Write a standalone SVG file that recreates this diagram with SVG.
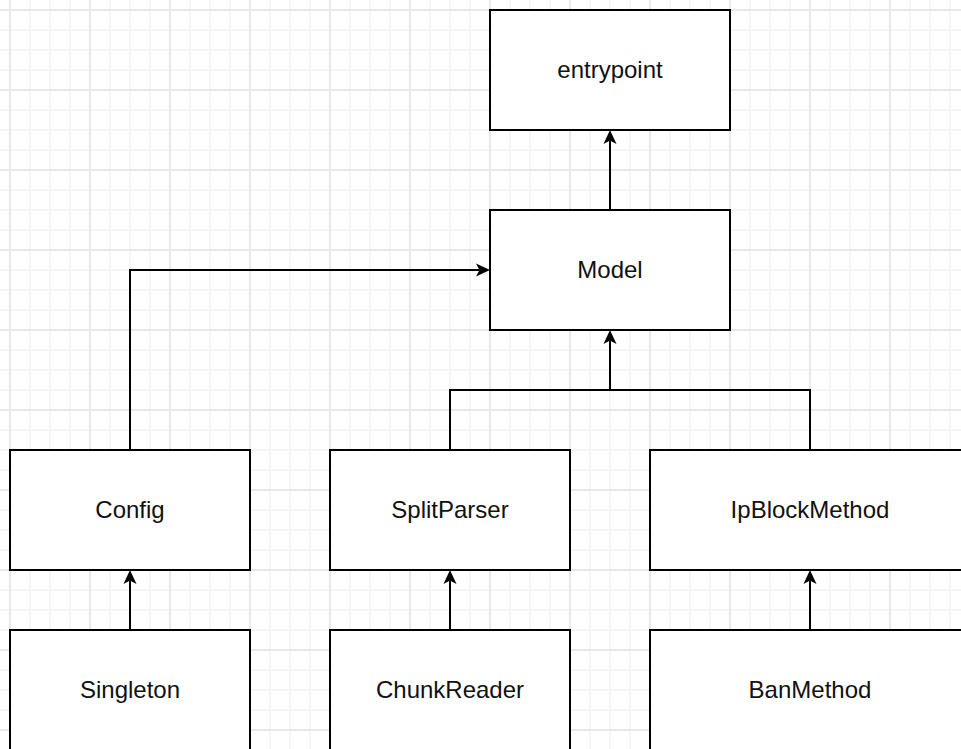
<svg xmlns="http://www.w3.org/2000/svg" width="961" height="749" viewBox="0 0 961 749">
  <defs>
    <style>
      .box { fill: #ffffff; stroke: #000000; stroke-width: 2; }
      .label { font-family: "Liberation Sans", Arial, Helvetica, sans-serif; font-size: 24px; fill: #111111; text-anchor: middle; }
      .edge { fill: none; stroke: #000000; stroke-width: 2; }
    </style>
    <!-- background grid: minor every 20px, major every 80px -->
    <pattern id="grid" patternUnits="userSpaceOnUse" x="10" y="10" width="80" height="80">
      <path d="M20,0V80M40,0V80M60,0V80M0,20H80M0,40H80M0,60H80" stroke="#f5f5f5" stroke-width="2" fill="none"/>
      <path d="M0,0V80M80,0V80M0,0H80M0,80H80" stroke="#e8e8e8" stroke-width="2" fill="none"/>
    </pattern>
    <marker id="arrow" markerUnits="userSpaceOnUse" markerWidth="14" markerHeight="13" refX="3.5" refY="6.5" orient="auto" overflow="visible">
      <path d="M0,0 L14,6.5 L0,13 L3.5,6.5 Z" fill="#000000"/>
    </marker>
  </defs>

  <rect x="0" y="0" width="961" height="749" fill="#ffffff"/>
  <rect x="0" y="0" width="961" height="749" fill="url(#grid)"/>

  <g id="connectors">
    <path class="edge" d="M610,210V140.5" marker-end="url(#arrow)"/>
    <path class="edge" d="M130,450V270H479.5" marker-end="url(#arrow)"/>
    <path class="edge" d="M450,450V390H810V450"/>
    <path class="edge" d="M610,390V340.5" marker-end="url(#arrow)"/>
    <path class="edge" d="M130,630V580.5" marker-end="url(#arrow)"/>
    <path class="edge" d="M450,630V580.5" marker-end="url(#arrow)"/>
    <path class="edge" d="M810,630V580.5" marker-end="url(#arrow)"/>
  </g>

  <g id="entrypoint">
    <rect class="box" x="490" y="10" width="240" height="120"/>
    <text class="label" x="610" y="78">entrypoint</text>
  </g>
  <g id="model">
    <rect class="box" x="490" y="210" width="240" height="120"/>
    <text class="label" x="610" y="278">Model</text>
  </g>
  <g id="config">
    <rect class="box" x="10" y="450" width="240" height="120"/>
    <text class="label" x="130" y="518">Config</text>
  </g>
  <g id="splitparser">
    <rect class="box" x="330" y="450" width="240" height="120"/>
    <text class="label" x="450" y="518">SplitParser</text>
  </g>
  <g id="ipblockmethod">
    <rect class="box" x="650" y="450" width="320" height="120"/>
    <text class="label" x="810" y="518">IpBlockMethod</text>
  </g>
  <g id="singleton">
    <rect class="box" x="10" y="630" width="240" height="120"/>
    <text class="label" x="130" y="698">Singleton</text>
  </g>
  <g id="chunkreader">
    <rect class="box" x="330" y="630" width="240" height="120"/>
    <text class="label" x="450" y="698">ChunkReader</text>
  </g>
  <g id="banmethod">
    <rect class="box" x="650" y="630" width="320" height="120"/>
    <text class="label" x="810" y="698">BanMethod</text>
  </g>
</svg>
